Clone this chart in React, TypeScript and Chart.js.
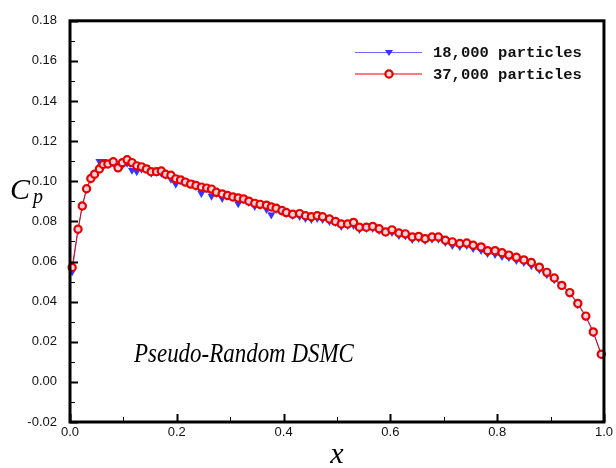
import { useEffect, useRef } from "react";
import { Chart, registerables } from "chart.js";

Chart.register(...registerables);

const X_POS = [
  0.004, 0.015, 0.023, 0.031, 0.039, 0.046, 0.055, 0.062, 0.071, 0.081,
  0.090, 0.098, 0.107, 0.116, 0.125, 0.134, 0.143, 0.152, 0.162, 0.171,
  0.179, 0.189, 0.198, 0.207, 0.216, 0.226, 0.236, 0.246, 0.256, 0.265,
  0.274, 0.285, 0.295, 0.305, 0.315, 0.325, 0.335, 0.346, 0.356, 0.368,
  0.377, 0.386, 0.397, 0.405, 0.417, 0.430, 0.441, 0.452, 0.463, 0.473,
  0.486, 0.497, 0.508, 0.520, 0.531, 0.542, 0.555, 0.567, 0.579, 0.591,
  0.603, 0.616, 0.628, 0.641, 0.653, 0.665, 0.678, 0.690, 0.703, 0.716,
  0.730, 0.743, 0.755, 0.770, 0.782, 0.796, 0.809, 0.822, 0.836, 0.850,
  0.864, 0.879, 0.893, 0.907, 0.921, 0.936, 0.951, 0.966, 0.980, 0.995,
];

const CP_18000 = [
  0.0550, 0.0755, 0.0875, 0.0960, 0.1010, 0.1040, 0.1100, 0.1100, 0.1090, 0.1090,
  0.1080, 0.1080, 0.1090, 0.1055, 0.1048, 0.1060, 0.1070, 0.1040, 0.1045, 0.1040,
  0.1030, 0.1010, 0.0986, 0.1005, 0.1000, 0.0995, 0.0975, 0.0940, 0.0965, 0.0926,
  0.0940, 0.0915, 0.0930, 0.0925, 0.0888, 0.0910, 0.0895, 0.0875, 0.0880, 0.0860,
  0.0833, 0.0860, 0.0850, 0.0840, 0.0830, 0.0825, 0.0815, 0.0810, 0.0815, 0.0810,
  0.0800, 0.0795, 0.0775, 0.0780, 0.0780, 0.0760, 0.0765, 0.0765, 0.0755, 0.0745,
  0.0745, 0.0730, 0.0728, 0.0710, 0.0715, 0.0705, 0.0712, 0.0712, 0.0695, 0.0680,
  0.0675, 0.0680, 0.0665, 0.0655, 0.0640, 0.0635, 0.0625, 0.0620, 0.0605, 0.0595,
  0.0580, 0.0560, 0.0535, 0.0510, 0.0478, 0.0442, 0.0385, 0.0325, 0.0245, 0.0135,
];

const CP_37000 = [
  0.0570, 0.0761, 0.0877, 0.0963, 0.1014, 0.1035, 0.1061, 0.1084, 0.1086, 0.1097,
  0.1067, 0.1092, 0.1107, 0.1093, 0.1077, 0.1072, 0.1061, 0.1048, 0.1048, 0.1051,
  0.1035, 0.1030, 0.1012, 0.1007, 0.0996, 0.0986, 0.0979, 0.0971, 0.0966, 0.0961,
  0.0945, 0.0937, 0.0929, 0.0922, 0.0917, 0.0912, 0.0901, 0.0890, 0.0885, 0.0881,
  0.0872, 0.0866, 0.0854, 0.0844, 0.0836, 0.0839, 0.0828, 0.0823, 0.0828, 0.0823,
  0.0812, 0.0800, 0.0787, 0.0787, 0.0795, 0.0771, 0.0771, 0.0775, 0.0763, 0.0747,
  0.0758, 0.0742, 0.0738, 0.0722, 0.0725, 0.0714, 0.0722, 0.0722, 0.0706, 0.0698,
  0.0690, 0.0692, 0.0681, 0.0673, 0.0654, 0.0654, 0.0644, 0.0632, 0.0621, 0.0608,
  0.0595, 0.0572, 0.0546, 0.0518, 0.0481, 0.0445, 0.0391, 0.0328, 0.0249, 0.0138,
];

const SERIES_LABELS = ["18,000 particles", "37,000 particles"];
const ANNOTATION = "Pseudo-Random DSMC";
const X_TITLE = "x";
const Y_TITLE_MAIN = "C";
const Y_TITLE_SUB = "p";

const Y_MIN = -0.02;
const Y_MAX = 0.18;
const Y_STEP = 0.02;
const X_MIN = 0;
const X_MAX = 1;
const X_STEP = 0.2;

const BLUE_LINE = "#6a6aff";
const BLUE_MARK = "#3535ff";
const RED = "#e80000";

const fmt = (v: any, d: number) => {
  const n = Number(v);
  return (Math.abs(n) < 1e-9 ? 0 : n).toFixed(d);
};

const framePlugin = {
  id: "tecFrame",
  afterDraw(chart: any) {
    const { ctx, chartArea: a, scales } = chart;
    const xs = scales.x;
    const ys = scales.y;
    ctx.save();
    ctx.strokeStyle = "#000";
    ctx.lineCap = "butt";

    const ny = Math.round((Y_MAX - Y_MIN) / Y_STEP);
    for (let i = 0; i <= ny; i++) {
      const py = Math.round(ys.getPixelForValue(Y_MIN + i * Y_STEP)) + 0.5;
      ctx.lineWidth = 2;
      ctx.beginPath();
      ctx.moveTo(a.left, py);
      ctx.lineTo(a.left + 8, py);
      ctx.stroke();
      if (i < ny) {
        const pm = Math.round(ys.getPixelForValue(Y_MIN + (i + 0.5) * Y_STEP)) + 0.5;
        ctx.lineWidth = 1;
        ctx.beginPath();
        ctx.moveTo(a.left, pm);
        ctx.lineTo(a.left + 5, pm);
        ctx.stroke();
      }
    }
    const nx = Math.round((X_MAX - X_MIN) / X_STEP);
    for (let i = 0; i <= nx; i++) {
      const px = Math.round(xs.getPixelForValue(X_MIN + i * X_STEP)) + 0.5;
      ctx.lineWidth = 2;
      ctx.beginPath();
      ctx.moveTo(px, a.bottom);
      ctx.lineTo(px, a.bottom - 8);
      ctx.stroke();
      if (i < nx) {
        const pm = Math.round(xs.getPixelForValue(X_MIN + (i + 0.5) * X_STEP)) + 0.5;
        ctx.lineWidth = 1;
        ctx.beginPath();
        ctx.moveTo(pm, a.bottom);
        ctx.lineTo(pm, a.bottom - 5);
        ctx.stroke();
      }
    }

    ctx.lineWidth = 3;
    ctx.strokeRect(a.left, a.top, a.right - a.left, a.bottom - a.top);

    ctx.fillStyle = "#000";
    ctx.textBaseline = "alphabetic";
    ctx.textAlign = "left";
    ctx.font = "italic 30px 'Liberation Serif', 'Times New Roman', serif";
    ctx.fillText(Y_TITLE_MAIN, 10, 199);
    ctx.font = "italic 20px 'Liberation Serif', 'Times New Roman', serif";
    ctx.fillText(Y_TITLE_SUB, 33, 203);

    ctx.textAlign = "center";
    ctx.font = "italic 30px 'Liberation Serif', 'Times New Roman', serif";
    ctx.fillText(X_TITLE, (a.left + a.right) / 2, 463);

    ctx.save();
    ctx.translate(134, 362);
    ctx.scale(0.85, 1);
    ctx.textAlign = "left";
    ctx.font = "italic 27px 'Liberation Serif', 'Times New Roman', serif";
    ctx.fillText(ANNOTATION, 0, 0);
    ctx.restore();

    const legendY = [52.5, 74];
    chart.data.datasets.forEach((ds: any) => {
      const y = legendY[ds.legendRow];
      ctx.strokeStyle = ds.borderColor;
      ctx.lineWidth = 1.2;
      ctx.beginPath();
      ctx.moveTo(355, y);
      ctx.lineTo(422, y);
      ctx.stroke();
      const mx = 389;
      if (ds.pointStyle === "triangle") {
        const r = 4;
        ctx.fillStyle = ds.pointBackgroundColor;
        ctx.beginPath();
        ctx.moveTo(mx - r, y - r * 0.6);
        ctx.lineTo(mx + r, y - r * 0.6);
        ctx.lineTo(mx, y + r * 0.9);
        ctx.closePath();
        ctx.fill();
      } else {
        ctx.fillStyle = ds.pointBackgroundColor;
        ctx.strokeStyle = ds.pointBorderColor;
        ctx.lineWidth = ds.pointBorderWidth;
        ctx.beginPath();
        ctx.arc(mx, y, ds.pointRadius, 0, Math.PI * 2);
        ctx.fill();
        ctx.stroke();
      }
      ctx.fillStyle = "#111";
      ctx.textAlign = "left";
      ctx.textBaseline = "middle";
      ctx.font = "bold 15.5px 'Liberation Mono', 'Courier New', monospace";
      ctx.fillText(ds.label, 433, y + 1);
    });
    ctx.restore();
  },
};

export default function App() {
  const canvasRef = useRef<HTMLCanvasElement | null>(null);

  useEffect(() => {
    if (!canvasRef.current) return;
    const blue = X_POS.map((x, i) => ({ x, y: CP_18000[i] }));
    const red = X_POS.map((x, i) => ({ x, y: CP_37000[i] }));
    const chart = new Chart(canvasRef.current, {
      type: "line",
      data: {
        datasets: [
          {
            label: SERIES_LABELS[1],
            legendRow: 1,
            data: red,
            order: 0,
            borderColor: RED,
            borderWidth: 1,
            pointStyle: "circle",
            pointRadius: 3.6,
            pointBorderWidth: 2.2,
            pointBorderColor: RED,
            pointBackgroundColor: "rgba(255,225,225,0.9)",
            clip: false,
          } as any,
          {
            label: SERIES_LABELS[0],
            legendRow: 0,
            data: blue,
            order: 1,
            borderColor: BLUE_LINE,
            borderWidth: 1,
            pointStyle: "triangle",
            pointRotation: 180,
            pointRadius: 4.6,
            pointBorderWidth: 0,
            pointBorderColor: BLUE_MARK,
            pointBackgroundColor: BLUE_MARK,
            clip: false,
          } as any,
        ],
      },
      options: {
        animation: false,
        responsive: false,
        devicePixelRatio: 1,
        layout: { padding: { top: 13, right: 12, left: 0, bottom: 0 } },
        plugins: {
          legend: { display: false },
          tooltip: { enabled: false },
        },
        scales: {
          x: {
            type: "linear",
            min: X_MIN,
            max: X_MAX,
            grid: { display: false, drawTicks: false },
            border: { display: false },
            ticks: {
              stepSize: X_STEP,
              padding: 3,
              color: "#111",
              font: { family: "'Liberation Sans', Arial, sans-serif", size: 13 },
              callback: (v: any) => fmt(v, 1),
              maxRotation: 0,
              autoSkip: false,
            },
            afterFit: (s: any) => {
              s.height = 46;
            },
          },
          y: {
            type: "linear",
            min: Y_MIN,
            max: Y_MAX,
            grid: { display: false, drawTicks: false },
            border: { display: false },
            ticks: {
              stepSize: Y_STEP,
              padding: 13,
              color: "#111",
              font: { family: "'Liberation Sans', Arial, sans-serif", size: 13 },
              callback: (v: any) => fmt(v, 2),
              autoSkip: false,
            },
            afterFit: (s: any) => {
              s.width = 70;
            },
          },
        },
      },
      plugins: [framePlugin],
    });
    return () => chart.destroy();
  }, []);

  return (
    <div style={{ position: "fixed", left: 0, top: 0, width: 616, height: 468, background: "#fff" }}>
      <canvas ref={canvasRef} width={616} height={468} style={{ display: "block" }} />
    </div>
  );
}
